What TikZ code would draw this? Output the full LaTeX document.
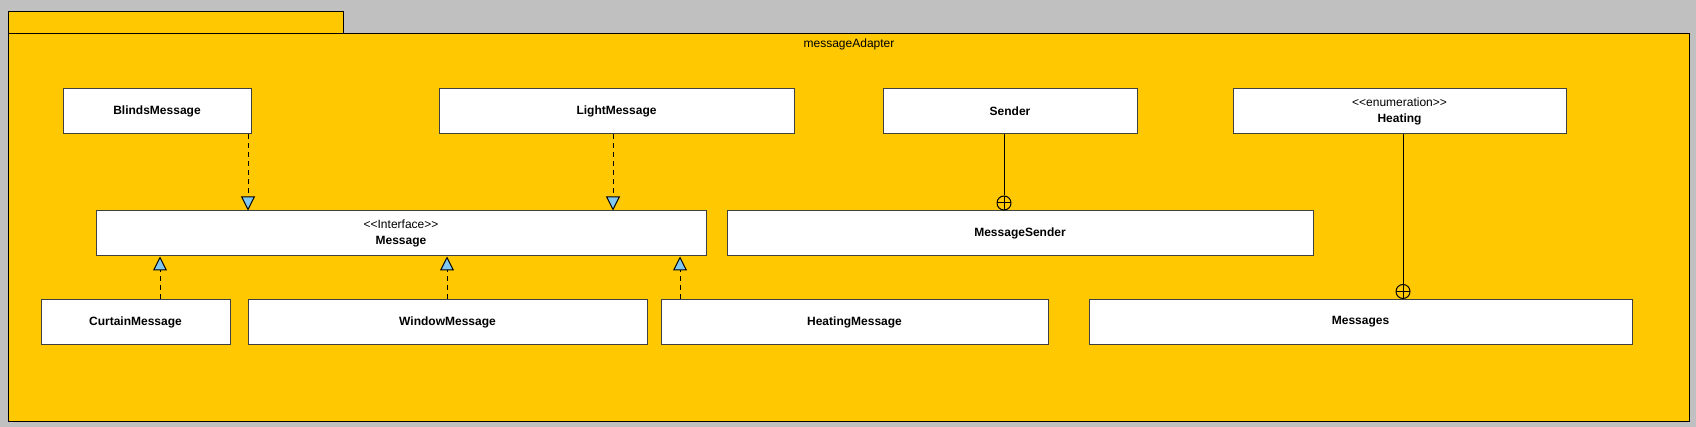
\documentclass[tikz,border=0pt]{standalone}
\usepackage{fontspec}
\setmainfont{Liberation Sans}
\usetikzlibrary{arrows.meta}

\definecolor{pkgfill}{RGB}{255,200,0}
\definecolor{bggray}{RGB}{192,192,192}
\definecolor{tipblue}{RGB}{128,200,240}

\begin{document}
\begin{tikzpicture}[x=1pt, y=-1pt,
    cls/.style={draw=black!75, line width=1pt, fill=white, minimum height=45, inner sep=0pt,
        align=center, font=\fontsize{12}{16}\selectfont\bfseries},
    realize/.style={dash pattern=on 5pt off 4pt, line width=1pt,
        -{Triangle[width=14pt, length=14pt, fill=tipblue]}},
    nest/.style={circle, draw, line width=1pt, minimum size=14, inner sep=0pt,
        path picture={\draw[line width=1pt] (path picture bounding box.north) -- (path picture bounding box.south)
            (path picture bounding box.west) -- (path picture bounding box.east);}}]
    % background and package frame
    \useasboundingbox (0,0) rectangle (1696,427);
    \fill[bggray] (0,0) rectangle (1696,427);
    \draw[fill=pkgfill, line width=1pt] (8,12) rectangle (343,34);
    \draw[fill=pkgfill, line width=1pt] (8,34) rectangle (1689,421);
    \node[font=\fontsize{12}{16}\selectfont] (pkg) at (849,44) {messageAdapter};

    % top row
    \node[cls, minimum width=188] (blinds) at (157,111.5) {BlindsMessage};
    \node[cls, minimum width=355] (light) at (616.5,111.5) {LightMessage};
    \node[cls, minimum width=254] (sender) at (1010,111.5) {Sender};
    \node[cls, minimum width=333] (heating) at (1399.5,111.5) {{\mdseries <{}<enumeration>{}>}\\Heating};

    % middle row
    \node[cls, minimum width=610] (msg) at (401,233.5) {{\mdseries <{}<Interface>{}>}\\Message};
    \node[cls, minimum width=586] (msgsnd) at (1020,233.5) {MessageSender};

    % bottom row
    \node[cls, minimum width=189] (curtain) at (135.5,322) {CurtainMessage};
    \node[cls, minimum width=399] (window) at (447.5,322) {WindowMessage};
    \node[cls, minimum width=387] (heatmsg) at (854.5,322) {HeatingMessage};
    \node[cls, minimum width=543] (messages) at (1360.5,322) {Messages};

    % realizations of Message
    \draw[realize] ([xshift=91]blinds.south) -- ([xshift=91]blinds.south |- msg.north);
    \draw[realize] ([xshift=-3.5]light.south) -- ([xshift=-3.5]light.south |- msg.north);
    \draw[realize] ([xshift=24.5]curtain.north) -- ([xshift=24.5]curtain.north |- msg.south);
    \draw[realize] ([xshift=-0.5]window.north) -- ([xshift=-0.5]window.north |- msg.south);
    \draw[realize] ([xshift=-174.5]heatmsg.north) -- ([xshift=-174.5]heatmsg.north |- msg.south);

    % nested classes
    \node[nest, anchor=south] (nestA) at ([xshift=-16]msgsnd.north) {};
    \node[nest, anchor=south] (nestB) at ([xshift=42.5]messages.north) {};
    \draw[line width=1pt] (nestA |- sender.south) -- (nestA.north);
    \draw[line width=1pt] (nestB |- heating.south) -- (nestB.north);
\end{tikzpicture}
\end{document}
